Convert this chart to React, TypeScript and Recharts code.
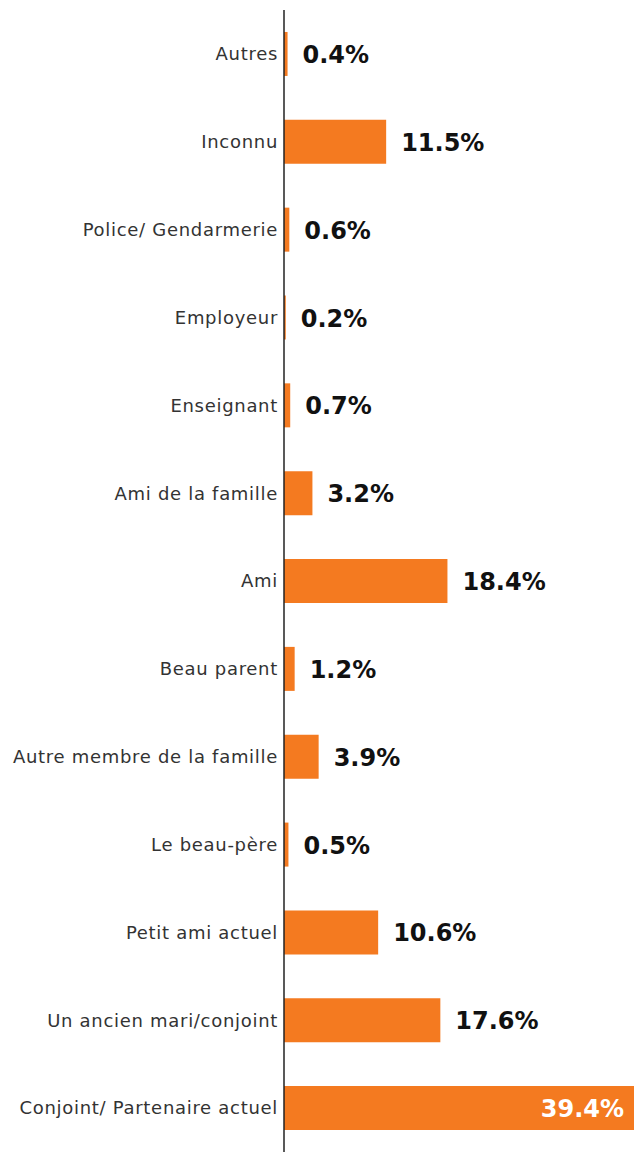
import { BarChart, Bar, XAxis, YAxis, LabelList } from 'recharts'

const categories = [
  'Autres',
  'Inconnu',
  'Police/ Gendarmerie',
  'Employeur',
  'Enseignant',
  'Ami de la famille',
  'Ami',
  'Beau parent',
  'Autre membre de la famille',
  'Le beau-père',
  'Petit ami actuel',
  'Un ancien mari/conjoint',
  'Conjoint/ Partenaire actuel',
]

const shares = [0.4, 11.5, 0.6, 0.2, 0.7, 3.2, 18.4, 1.2, 3.9, 0.5, 10.6, 17.6, 39.4]

const data = categories.map((name, i) => ({ name, value: shares[i] }))
const maxValue = Math.max(...shares)

const ORANGE = '#f47a20'
const FONT = '"DejaVu Sans", sans-serif'

// label to the right of the bar, or inside in white for the widest one
const renderLabel = (props: any) => {
  const { x, y, width, height, value } = props
  const text = `${value}%`
  const cy = y + height / 2
  const inside = value === maxValue
  return (
    <text
      x={inside ? x + width - 10 : x + width + 15}
      y={cy}
      dy={9}
      textAnchor={inside ? 'end' : 'start'}
      fill={inside ? '#fff' : '#111'}
      fontSize={24}
      fontWeight={700}
      fontFamily={FONT}
    >
      {text}
    </text>
  )
}

export default function App() {
  return (
    <div style={{ position: 'absolute', top: 0, left: 0, background: '#fff' }}>
      <BarChart
        width={634}
        height={1152}
        data={data}
        layout="vertical"
        margin={{ top: 10, right: 0, bottom: 0, left: 0 }}
        barCategoryGap="25%"
      >
        <XAxis type="number" domain={[0, maxValue]} hide />
        <YAxis
          type="category"
          dataKey="name"
          width={284}
          axisLine={{ stroke: '#222', strokeWidth: 1.5 }}
          tickLine={false}
          tickMargin={0}
          tick={{ fontSize: 18, fill: '#333', fontFamily: FONT, letterSpacing: 0.7 }}
          interval={0}
        />
        <Bar dataKey="value" fill={ORANGE} isAnimationActive={false}>
          <LabelList dataKey="value" content={renderLabel} />
        </Bar>
      </BarChart>
    </div>
  )
}
